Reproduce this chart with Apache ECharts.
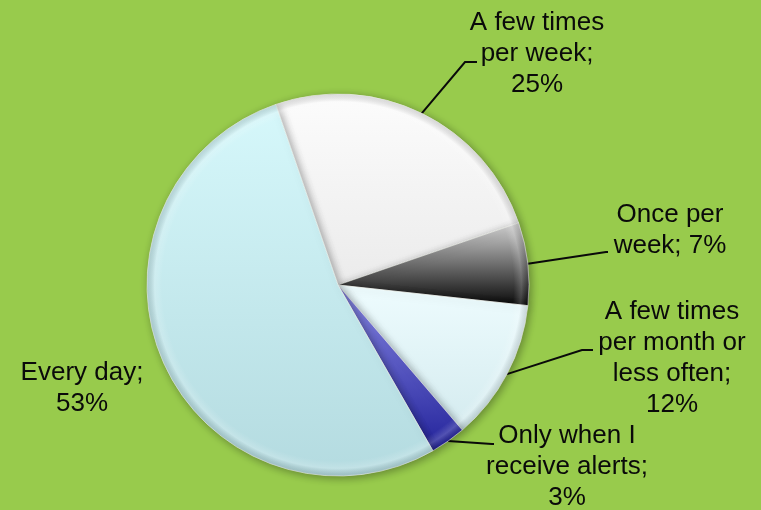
<!DOCTYPE html>
<html>
<head>
<meta charset="utf-8">
<script src="https://cdn.jsdelivr.net/npm/echarts@6/dist/echarts.min.js"></script>
<style>
html,body{margin:0;padding:0;background:#98cb4c;}
#c{width:761px;height:510px;}
</style>
</head>
<body>
<div id="c"></div>
<script>
// Data
var categories = ['A few times per week', 'Once per week', 'A few times per month or less often', 'Only when I receive alerts', 'Every day'];
var values = [25, 7, 12, 3, 53];
var labelNames = ['A few times\nper week;\n', 'Once per\nweek; ', 'A few times\nper month or\nless often;\n', 'Only when I\nreceive alerts;\n', 'Every day;\n'];

// Styling
var sliceColors = [
  ['#fcfcfc', '#ebebeb'],
  ['#d4d4d4', '#080808'],
  ['#eefcfe', '#d4ebef'],
  ['#8a8ae6', '#22229a'],
  ['#d6f8fb', '#b4dbe0']
];
// label centres (x, y in px) and leader-line elbow/end
var labelPos = [[537, 54], [670, 230], [672, 358], [567, 467], [82, 388]];
var leader = [[[465, 62], [477, 62]], [[606, 252], [608, 252]], [[582, 350], [593, 350]], [[492, 444], [494, 444]], null];

var chart = echarts.init(document.getElementById('c'), null, {renderer: 'canvas'});
var data = categories.map(function (n, i) {
  return {
    name: n,
    value: values[i],
    itemStyle: {
      color: {
        type: 'linear', x: 0, y: 0, x2: 0, y2: 1,
        colorStops: [{offset: 0, color: sliceColors[i][0]}, {offset: 1, color: sliceColors[i][1]}]
      }
    },
    labelLine: {show: i !== 4}
  };
});
chart.setOption({
  backgroundColor: '#98cb4c',
  animation: false,
  series: [{
    type: 'pie',
    center: [338, 285],
    radius: 191,
    startAngle: 109,
    clockwise: true,
    avoidLabelOverlap: false,
    data: data,
    itemStyle: {
      borderColor: 'rgba(255,255,255,0.55)',
      borderWidth: 1,
      shadowBlur: 8,
      shadowColor: 'rgba(0,0,0,0.35)',
      shadowOffsetX: 2,
      shadowOffsetY: 2
    },
    label: {
      show: true,
      position: 'outside',
      formatter: function (p) { return labelNames[p.dataIndex] + p.value + '%'; },
      fontFamily: 'Liberation Sans, Arial, sans-serif',
      fontSize: 26,
      lineHeight: 31,
      color: '#0a0a0a',
      align: 'center'
    },
    labelLine: {
      show: true,
      lineStyle: {color: '#0a0a0a', width: 2}
    },
    labelLayout: function (p) {
      var i = p.dataIndex;
      var res = {
        x: labelPos[i][0],
        y: labelPos[i][1],
        align: 'center',
        verticalAlign: 'middle'
      };
      if (leader[i] && p.labelLinePoints) {
        res.labelLinePoints = [p.labelLinePoints[0], leader[i][0], leader[i][1]];
      }
      return res;
    }
  }, {
    // bevel rim overlay (decorative)
    type: 'pie',
    center: [338, 285],
    radius: 191,
    silent: true,
    label: {show: false},
    labelLine: {show: false},
    data: [{
      value: 1,
      itemStyle: {
        color: {
          type: 'radial', x: 0.5, y: 0.5, r: 0.5,
          colorStops: [
            {offset: 0, color: 'rgba(255,255,255,0)'},
            {offset: 0.92, color: 'rgba(255,255,255,0)'},
            {offset: 0.96, color: 'rgba(255,255,255,0.18)'},
            {offset: 1, color: 'rgba(0,0,0,0.12)'}
          ]
        }
      }
    }]
  }]
});
</script>
</body>
</html>
